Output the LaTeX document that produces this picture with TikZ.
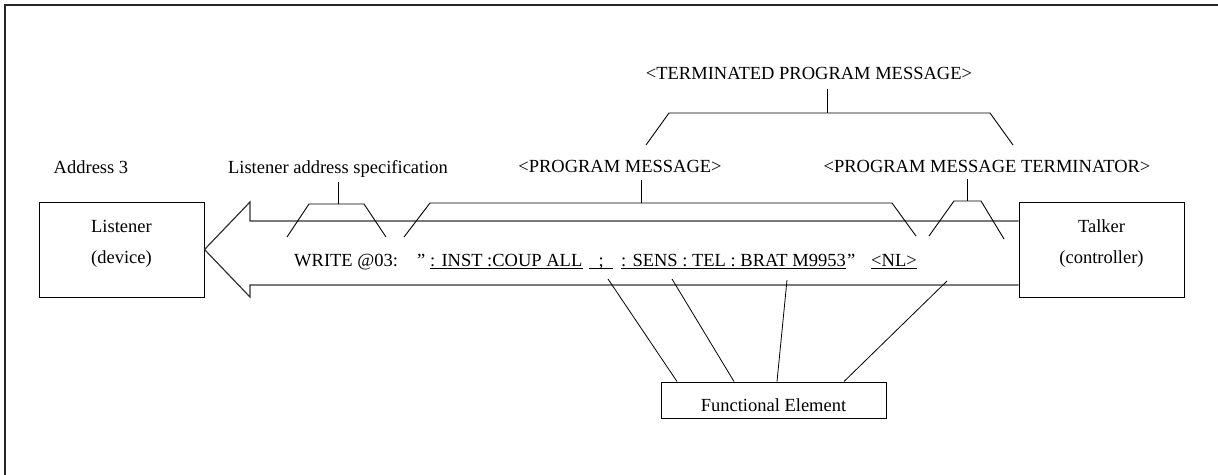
\documentclass[tikz,border=0pt]{standalone}
\usepackage{fontspec}
\setmainfont{Liberation Serif}
\begin{document}
\begin{tikzpicture}[x=1pt,y=-1pt,
  every node/.style={inner sep=0pt, font=\fontsize{18.5}{22}\selectfont},
  devbox/.style={draw, line width=1pt, minimum width=165pt, minimum height=95pt},
  febox/.style={draw, line width=1pt, minimum width=225pt, minimum height=36pt},
  lbl/.style={anchor=base},
  piece/.style={anchor=base west},
  bracket/.style={line width=0.9pt},
  pipe/.style={line width=1.2pt, draw=black!80},
  lead/.style={line width=0.8pt},
  uline/.style={line width=0.8pt}]
\useasboundingbox (0,0) rectangle (1218,474);
% outer frame
\draw[line width=2pt, black!85] (5,490) -- (5,5) -- (1240,5);

% devices
\node[devbox] (listener) at (121.5,249.5) {};
\node[lbl] (listenerA) at (121.5,232) {Listener};
\node[lbl] (listenerB) at (121.5,263) {(device)};
\node[devbox] (talker) at (1101.5,249.5) {};
\node[lbl] (talkerA) at (1101.5,232) {Talker};
\node[lbl] (talkerB) at (1101.5,263) {(controller)};

% bus arrow from talker to listener
\draw[pipe] (talker.west |- 0,221) -- (250,221) -- (250,202) -- (listener.east)
  -- (250,297) -- (250,285) -- (talker.west |- 0,285);

% headings
\node[lbl] (addr) at (91,173) {Address 3};
\node[lbl] (las) at (338,173) {Listener address specification};
\node[lbl] (pm) at (620,172) {<PROGRAM MESSAGE>};
\node[lbl] (pmt) at (987,172) {<PROGRAM MESSAGE TERMINATOR>};
\node[lbl] (tpm) at (809,79) {<TERMINATED PROGRAM MESSAGE>};

% message string
\node[piece] (wr) at (294,266) {WRITE @03:};
\node[piece] (q1) at (417,266) {”};
\node[piece] (s1) at (430,266) {: INST :COUP ALL};
\node[piece, minimum width=24pt] (sc) at (589,266) {;};
\node[piece] (s2) at (621,266) {: SENS : TEL : BRAT M9953};
\node[piece] (q2) at ([xshift=1pt]s2.base east) {”};
\node[piece] (nl) at (871,266) {<NL>};
\foreach \n in {s1,sc,s2,nl}
  \draw[uline] ([yshift=-2.2pt]\n.base west) -- ([yshift=-2.2pt]\n.base east);

% brackets
\draw[bracket] (338,182) -- (338,204);
\draw[bracket] (287,237) -- (309,204) -- (364,204) -- (386,237);
\draw[bracket] (641,180) -- (641,203);
\draw[bracket] (404,237) -- (430,203) -- (892,203) -- (916,236);
\draw[bracket] (967,179) -- (967,201);
\draw[bracket] (929,236) -- (954,201) -- (981,201) -- (1004,239);
\draw[bracket] (827,89) -- (827,113);
\draw[bracket] (646,145) -- (669,113) -- (990,113) -- (1013,145);

% functional element
\node[febox] (fe) at (773.5,400) {};
\node[lbl] (feT) at (773.5,411) {Functional Element};
\draw[lead] (608,279) -- (677,0 |- fe.north);
\draw[lead] (672,279) -- (734,0 |- fe.north);
\draw[lead] (787,280) -- (777,0 |- fe.north);
\draw[lead] (947,281) -- (844,0 |- fe.north);
\end{tikzpicture}
\end{document}
